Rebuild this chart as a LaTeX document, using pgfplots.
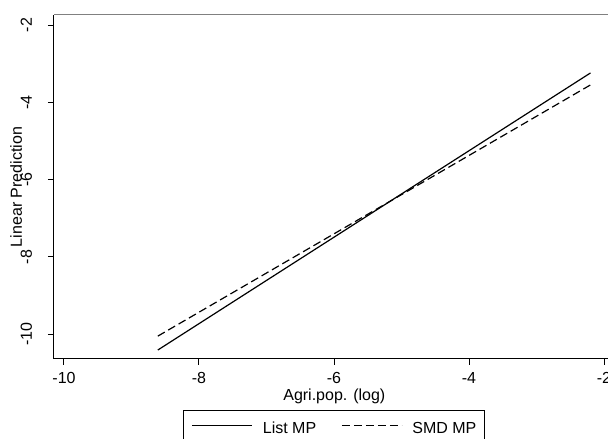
\documentclass[border=0pt]{standalone}
\usepackage{pgfplots}
\pgfplotsset{compat=1.18}
\usepackage{fontspec}
\setmainfont{Liberation Sans}
\newcommand{\chartfont}{\fontsize{12}{14}\selectfont}

\begin{document}
\begin{tikzpicture}
% page = visible part of the plot (right edge is cut off in the reference)
\useasboundingbox (-40.5pt,-60pt) rectangle (415.5pt,269.25pt);
\clip (-40.5pt,-60pt) rectangle (415.5pt,269.25pt);
\begin{axis}[
  scale only axis, width=415.5pt, height=258pt,
  xmin=-10.148, xmax=-1.941, ymin=-10.642, ymax=-1.741,
  axis x line*=bottom, axis y line*=left,
  axis line style={-, black, line width=0.75pt},
  tick align=outside, major tick length=4.5pt,
  tick style={black, line width=0.75pt},
  xtick={-10,-8,-6,-4,-2}, xticklabels={-10,-8,-6,-4,-2},
  ytick={-10,-8,-6,-4,-2}, yticklabels={-10,-8,-6,-4,-2},
  xticklabel style={font=\chartfont, anchor=base, yshift=-14pt},
  yticklabel style={font=\chartfont, rotate=90, anchor=base, yshift=12pt},
  xlabel={Agri.pop. (log)},
  ylabel={Linear Prediction},
  xlabel style={font=\chartfont, at={(axis description cs:0.506,0)}, anchor=base, yshift=-31.5pt},
  ylabel style={font=\chartfont, at={(axis description cs:0,0.5)}, anchor=base, yshift=24pt},
  legend columns=2,
  legend style={at={(axis description cs:0.5055,0)}, anchor=north, yshift=-38.25pt,
    draw=black, line width=0.6pt, inner xsep=6pt, inner ysep=9pt,
    font=\chartfont, nodes={inner sep=0pt},
    /tikz/every odd column/.append style={column sep=7.5pt},
    /tikz/every even column/.append style={column sep=18.75pt}},
  legend image code/.code={\draw[#1] (0pt,0.3em) -- (45pt,0.3em);},
]
\addplot[black, line width=0.9pt] coordinates {(-8.61,-10.41) (-2.20,-3.24)};
\addlegendentry{List MP}
\addplot[black, line width=0.9pt, dash pattern=on 6pt off 3pt] coordinates {(-8.61,-10.05) (-2.20,-3.55)};
\addlegendentry{SMD MP}
\draw[gray, line width=0.75pt] (rel axis cs:0,1) -- (rel axis cs:1,1);
\end{axis}
\end{tikzpicture}
\end{document}
